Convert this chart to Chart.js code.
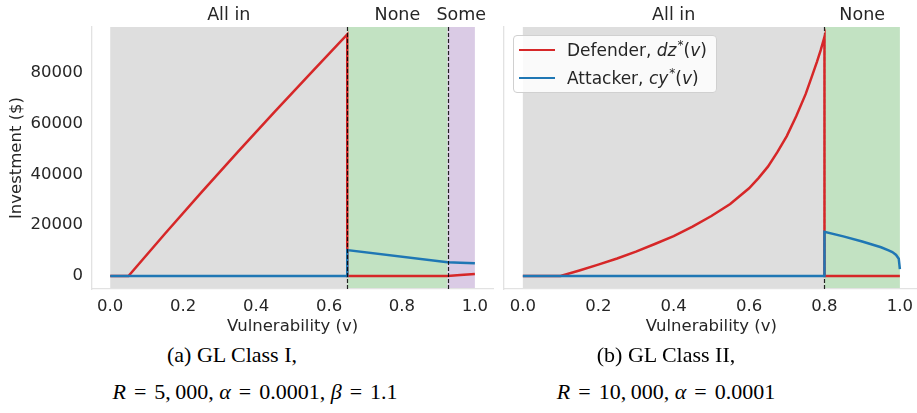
<!DOCTYPE html>
<html>
<head>
<meta charset="utf-8">
<script src="https://cdn.jsdelivr.net/npm/chart.js@4.4.0/dist/chart.umd.min.js"></script>
<style>
  html, body { margin:0; padding:0; width:917px; height:413px; overflow:hidden; background:#fff; }
  canvas { position:absolute; top:0; }
  #c1 { left:0; }
  #c2 { left:460px; }
  .cap { position:absolute; font-family:"Liberation Serif", "DejaVu Serif", serif; font-size:22px; color:#000;
         white-space:nowrap; transform:translate(-50%, -50%); line-height:1; }
  .cap .eq { margin:0 8px; }
  .lg { position:absolute; background:rgba(255,255,255,0.85); border:1px solid #d0d0d0; border-radius:4px;
        padding:0 9px 0 5px; font-family:"DejaVu Sans", sans-serif; font-size:17px; color:#262626; }
  .lg .row { height:28px; display:flex; align-items:center; white-space:nowrap; }
  .lg .sw { display:inline-block; width:36px; height:2.5px; margin-right:12px; }
  .lg sup { font-size:12px; vertical-align:7px; line-height:0; margin-left:1px; }
</style>
</head>
<body>
<canvas id="c1" width="496" height="340"></canvas>
<canvas id="c2" width="461" height="340"></canvas>

<div class="cap" style="left:232px; top:355px;">(a) GL Class I,</div>
<div class="cap" style="left:255px; top:392px;"><i>R</i><span class="eq">=</span>5,&thinsp;000, <i>α</i><span class="eq">=</span>0.0001, <i>β</i><span class="eq">=</span>1.1</div>
<div class="cap" style="left:666px; top:355px;">(b) GL Class II,</div>
<div class="cap" style="left:666px; top:392px;"><i>R</i><span class="eq">=</span>10,&thinsp;000, <i>α</i><span class="eq">=</span>0.0001</div>

<script>
// ---------------- data ----------------
// Panel (a): GL Class I
const vulnDefA = [0, 0.05, 0.15, 0.25, 0.35, 0.45, 0.55, 0.65, 0.65, 0.925, 0.96, 1.0];
const defA     = [0, 0, 16600, 32900, 48800, 64400, 79800, 95000, 0, 0, 380, 800];
const vulnAttA = [0, 0.65, 0.65, 0.925, 0.96, 1.0];
const attA     = [0, 0, 10200, 5400, 5200, 5000];
const regionBoundsA = [0, 0.65, 0.925, 1.0];
const regionNamesA  = ['All in', 'None', 'Some'];

// Panel (b): GL Class II
const vulnDefB = [0, 0.1, 0.15, 0.2, 0.25, 0.3, 0.35, 0.4, 0.45, 0.5, 0.55, 0.6, 0.625, 0.65, 0.675, 0.7, 0.725, 0.75, 0.765, 0.78, 0.79, 0.8, 0.8, 1.0];
const defB     = [0, 0, 2200, 4500, 6900, 9600, 12600, 15700, 19400, 23600, 28300, 34500, 38500, 43000, 48700, 55000, 62800, 71500, 77800, 84200, 88800, 94000, 0, 0];
const vulnAttB = [0, 0.8, 0.8, 0.85, 0.9, 0.95, 0.97, 0.98, 0.99, 0.997, 1.0];
const attB     = [0, 0, 17400, 15600, 13600, 11300, 10100, 9400, 8300, 6800, 2700];
const regionBoundsB = [0, 0.8, 1.0];
const regionNamesB  = ['All in', 'None'];

// axes / legend text
const xTickValues = [0, 0.2, 0.4, 0.6, 0.8, 1.0];
const yTickValues = [0, 20000, 40000, 60000, 80000];
const seriesNames   = ['Defender', 'Attacker'];
const seriesSymbols = ['dz', 'cy'];
const xTitle = 'Vulnerability (v)';
const yTitle = 'Investment ($)';

// ---------------- styles ----------------
const RED = '#d62728', BLUE = '#1f77b4';
const TEXT = '#262626';
const SPINE = '#e2e2e2';
const REGION_COLORS = { 'All in': '#dedede', 'None': '#c2e2c2', 'Some': '#dacbe5' };
const FONT = { family: 'DejaVu Sans', size: 16.5 };
const REGION_FONT = '17.5px "DejaVu Sans"';

function pts(xs, ys) { return xs.map((x, i) => ({ x: x, y: ys[i] })); }

const regionPlugin = {
  id: 'regions',
  beforeDraw(chart, args, opts) {
    const { ctx, chartArea: a, scales: { x } } = chart;
    const b = opts.bounds;
    ctx.save();
    for (let i = 0; i < b.length - 1; i++) {
      const x0 = x.getPixelForValue(b[i]), x1 = x.getPixelForValue(b[i + 1]);
      ctx.fillStyle = REGION_COLORS[opts.names[i]];
      ctx.fillRect(x0, a.top, x1 - x0, a.bottom - a.top);
    }
    ctx.restore();
  },
  drawDashes(chart, opts) {
    const { ctx, chartArea: a, scales: { x } } = chart;
    const b = opts.bounds;
    ctx.save();
    ctx.strokeStyle = 'rgba(0,0,0,0.85)';
    ctx.lineWidth = 1.2;
    ctx.setLineDash([4, 2]);
    for (let i = 1; i < b.length - 1; i++) {
      const px = Math.round(x.getPixelForValue(b[i])) + 0.5;
      ctx.beginPath(); ctx.moveTo(px, a.top); ctx.lineTo(px, a.bottom); ctx.stroke();
    }
    ctx.restore();
  },
  beforeDatasetsDraw(chart, args, opts) { if (!opts.dashOnTop) this.drawDashes(chart, opts); },
  afterDatasetsDraw(chart, args, opts) { if (opts.dashOnTop) this.drawDashes(chart, opts); },
  afterDraw(chart, args, opts) {
    const { ctx, scales: { x } } = chart;
    const b = opts.bounds;
    ctx.save();
    ctx.font = REGION_FONT;
    ctx.fillStyle = TEXT;
    ctx.textAlign = 'center';
    ctx.textBaseline = 'middle';
    for (let i = 0; i < b.length - 1; i++) {
      const xc = (x.getPixelForValue(b[i]) + x.getPixelForValue(b[i + 1])) / 2;
      ctx.fillText(opts.names[i], xc, 15);
    }
    ctx.restore();
  }
};

const htmlLegendPlugin = {
  id: 'htmlLegend',
  afterUpdate(chart, args, opts) {
    if (!opts.show) return;
    let el = document.getElementById('legend-' + chart.canvas.id);
    if (!el) {
      el = document.createElement('div');
      el.id = 'legend-' + chart.canvas.id;
      el.className = 'lg';
      document.body.appendChild(el);
    }
    el.innerHTML = '';
    chart.data.datasets.forEach((ds, i) => {
      const row = document.createElement('div');
      row.className = 'row';
      row.innerHTML = '<span class="sw" style="background:' + ds.borderColor + '"></span>' +
        '<span>' + seriesNames[i] + ', <i>' + seriesSymbols[i] + '</i><sup>*</sup>(<i>v</i>)</span>';
      el.appendChild(row);
    });
    const a = chart.chartArea;
    el.style.left = (chart.canvas.offsetLeft + a.left + 9) + 'px';
    el.style.top = (a.top + 8) + 'px';
  }
};

function makeChart(id, defX, defY, attX, attY, bounds, names, opts) {
  return new Chart(document.getElementById(id), {
    type: 'line',
    data: {
      datasets: [
        { label: seriesNames[0] + ', ' + seriesSymbols[0] + '*(v)', data: pts(defX, defY),
          borderColor: RED, backgroundColor: RED, borderWidth: 2.5, pointRadius: 0, tension: 0, fill: false, order: 2 },
        { label: seriesNames[1] + ', ' + seriesSymbols[1] + '*(v)', data: pts(attX, attY),
          borderColor: BLUE, backgroundColor: BLUE, borderWidth: 2.5, pointRadius: 0, tension: 0, fill: false, order: 1 }
      ]
    },
    options: {
      responsive: false,
      animation: false,
      events: [],
      layout: { padding: { top: 27, right: 0, bottom: 0, left: 0 } },
      plugins: {
        legend: { display: false },
        tooltip: { enabled: false },
        regions: { bounds: bounds, names: names, dashOnTop: opts.dashOnTop },
        htmlLegend: { show: opts.legend }
      },
      scales: {
        x: {
          type: 'linear', min: -0.05, max: 1.05,
          afterBuildTicks: s => { s.ticks = xTickValues.map(v => ({ value: v })); },
          afterFit: s => { s.height = 51; },
          ticks: { callback: v => Number(v).toFixed(1), font: FONT, color: TEXT, padding: 8, maxRotation: 0, autoSkip: false },
          grid: { display: false, drawTicks: false },
          border: { display: true, color: SPINE, width: 1.3 },
          title: { display: true, text: xTitle, font: FONT, color: TEXT, padding: { top: 0, bottom: 3 } }
        },
        y: {
          type: 'linear', min: -5100, max: 97900,
          afterBuildTicks: s => { s.ticks = yTickValues.map(v => ({ value: v })); },
          afterFit: s => { s.width = opts.yWidth; },
          ticks: { display: opts.yLabels, callback: v => String(v), font: FONT, color: TEXT, padding: 9 },
          grid: { display: false, drawTicks: false },
          border: { display: true, color: SPINE, width: 1.3 },
          title: { display: opts.yLabels, text: yTitle, font: FONT, color: TEXT, padding: { top: 7, bottom: 0 } }
        }
      }
    },
    plugins: [regionPlugin, htmlLegendPlugin]
  });
}

makeChart('c1', vulnDefA, defA, vulnAttA, attA, regionBoundsA, regionNamesA,
          { yWidth: 92, yLabels: true, legend: false, dashOnTop: true });
makeChart('c2', vulnDefB, defB, vulnAttB, attB, regionBoundsB, regionNamesB,
          { yWidth: 44, yLabels: false, legend: true, dashOnTop: false });
</script>
</body>
</html>
